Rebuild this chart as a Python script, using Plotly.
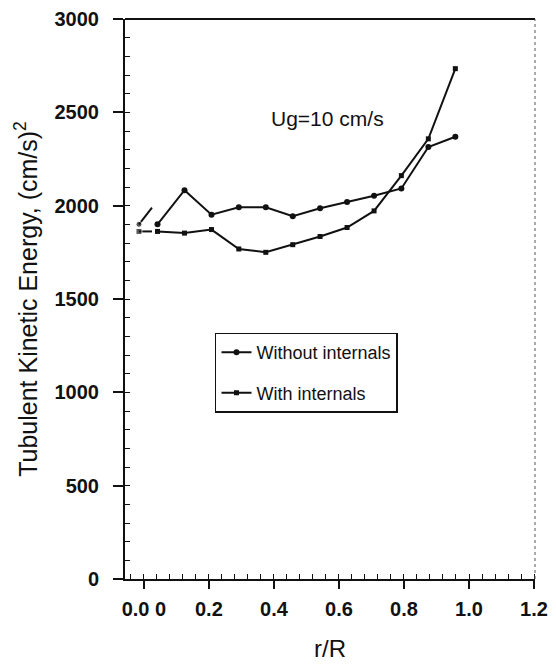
import plotly.graph_objects as go

# r/R positions of the measured points
r_R = [0.042, 0.125, 0.208, 0.292, 0.375, 0.458, 0.542, 0.625, 0.708, 0.792, 0.875, 0.958]
without_internals = [1900, 2083, 1952, 1991, 1991, 1943, 1986, 2020, 2053, 2092, 2314, 2369]
with_internals = [1862, 1853, 1872, 1768, 1750, 1791, 1835, 1883, 1972, 2161, 2358, 2734]

# short broken stubs near the axis (as drawn in the original)
stub_r = [-0.015, 0.025]
stub_without = [1900, 1990]
stub_with = [1862, 1862]

x_ticks = [0.0, 0.2, 0.4, 0.6, 0.8, 1.0, 1.2]
x_labels = ["0.0 0", "0.2", "0.4", "0.6", "0.8", "1.0", "1.2"]
y_ticks = [0, 500, 1000, 1500, 2000, 2500, 3000]

FONT = "Liberation Sans, Arial, sans-serif"
INK = "#111111"

fig = go.Figure()
fig.add_trace(go.Scatter(
    x=r_R, y=without_internals, name="Without internals", mode="lines+markers",
    legendgroup="a",
    line=dict(color=INK, width=2), marker=dict(symbol="circle", size=6, color=INK),
))
fig.add_trace(go.Scatter(
    x=r_R, y=with_internals, name="With internals", mode="lines+markers",
    legendgroup="b",
    line=dict(color=INK, width=2), marker=dict(symbol="square", size=5, color=INK),
))
for ys, sym in ((stub_without, "circle"), (stub_with, "square")):
    fig.add_trace(go.Scatter(
        x=stub_r, y=ys, mode="lines+markers", showlegend=False,
        line=dict(color=INK, width=2), marker=dict(symbol=sym, size=[6, 0], color=INK),
    ))

fig.add_annotation(x=0.566, y=2468, text="Ug=10 cm/s", showarrow=False,
                   font=dict(family=FONT, size=21, color=INK))

# top border solid, right border dotted
fig.add_shape(type="line", xref="paper", yref="paper", x0=0, x1=1, y0=1, y1=1,
              line=dict(color=INK, width=2))
fig.add_shape(type="line", xref="paper", yref="paper", x0=1, x1=1, y0=0, y1=1,
              line=dict(color="#555555", width=1, dash="dot"))

# page body adds an 8px margin, so the figure is sized to sit inside the window
fig.update_layout(
    width=548, height=659,
    margin=dict(l=117, r=21, t=11, b=88),
    paper_bgcolor="white", plot_bgcolor="white",
    font=dict(family=FONT, size=18, color=INK),
    xaxis=dict(
        range=[-0.058, 1.203], tickvals=x_ticks, ticktext=x_labels, automargin=False,
        showgrid=False, zeroline=False, showline=True, linecolor=INK, linewidth=2,
        ticks="outside", ticklen=8, tickwidth=1.5, tickcolor=INK, ticklabelstandoff=3,
        ticklabeloverflow="allow",
        minor=dict(dtick=0.04, ticks="inside", ticklen=5, tickcolor=INK, tickwidth=1),
        title=dict(text="r/R", font=dict(size=24), standoff=21),
        tickfont=dict(size=20, weight="bold"),
    ),
    yaxis=dict(
        range=[0, 3000], tickvals=y_ticks, automargin=False,
        showgrid=False, zeroline=False, showline=True, linecolor=INK, linewidth=2,
        ticks="outside", ticklen=10, tickwidth=1.5, tickcolor=INK, ticklabelstandoff=10,
        ticklabeloverflow="allow",
        minor=dict(dtick=100, ticks="inside", ticklen=5, tickcolor=INK, tickwidth=1),
        title=dict(text="Tubulent Kinetic Energy, (cm/s)<sup>2</sup>", font=dict(size=25), standoff=10),
        tickfont=dict(size=20, weight="bold"),
    ),
    legend=dict(
        x=0.2195, y=0.44, xanchor="left", yanchor="top",
        bgcolor="white", bordercolor=INK, borderwidth=1.5,
        font=dict(family=FONT, size=18, color=INK),
        itemwidth=30, traceorder="grouped", tracegroupgap=14,
    ),
)

fig.write_html("out.html")
